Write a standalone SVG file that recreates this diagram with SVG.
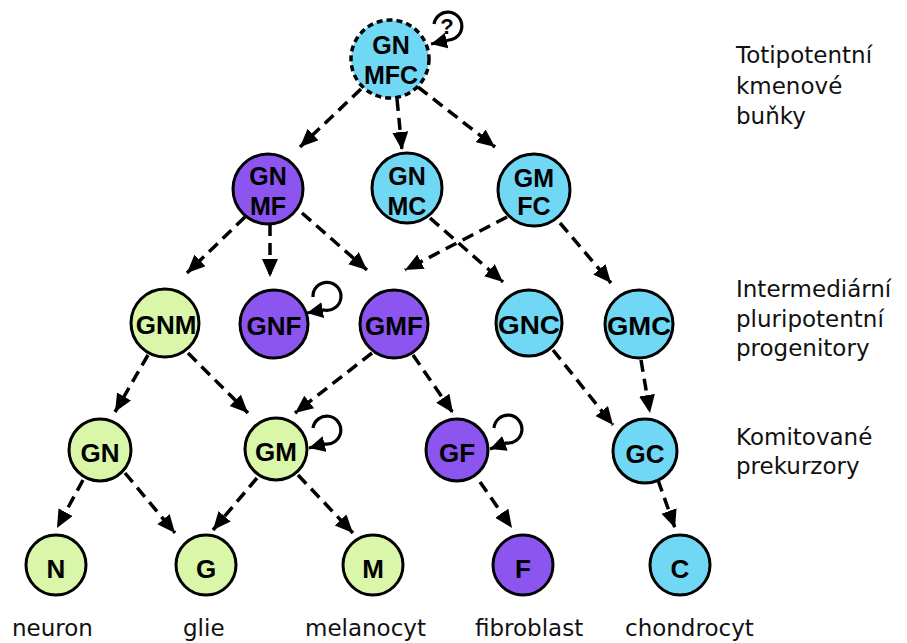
<svg xmlns="http://www.w3.org/2000/svg" width="907" height="643" viewBox="0 0 907 643">
<defs>
<style>
.n{stroke:#000;stroke-width:3}
.cy{fill:#70d8f4}
.pu{fill:#8c55ef}
.gr{fill:#d9f6a9}
.t{font-family:"Liberation Sans",Arial,sans-serif;font-weight:bold;font-size:26px;fill:#000;text-anchor:middle}
.t2{font-family:"Liberation Sans",Arial,sans-serif;font-weight:bold;font-size:25px;fill:#000;text-anchor:middle}
.c{fill:none;stroke:#000;stroke-width:3.5;stroke-dasharray:12 7;marker-end:url(#ah)}
.loop{fill:none;stroke:#000;stroke-width:3.2;marker-end:url(#ah2)}
.lab{font-family:"DejaVu Sans",Verdana,sans-serif;font-size:23px;fill:#111}
</style>
<marker id="ah" markerUnits="userSpaceOnUse" markerWidth="19" markerHeight="17" refX="18" refY="8" orient="auto">
<path d="M0,0 L18,8 L0,16 z" fill="#000"/>
</marker>
<marker id="ah2" markerUnits="userSpaceOnUse" markerWidth="17" markerHeight="17" refX="16" refY="8" orient="auto">
<path d="M0,0 L16,8 L0,16 z" fill="#000"/>
</marker>
</defs>
<rect width="907" height="643" fill="#fff"/>

<g id="connectors">
<path class="c" d="M361,89 L300,147"/>
<path class="c" d="M397,99 L402,150"/>
<path class="c" d="M418,87 L495,147"/>
<path class="c" d="M245,217 L187,273"/>
<path class="c" d="M270,224 L270,277"/>
<path class="c" d="M302,213 L367,270"/>
<path class="c" d="M507,217 L405,270"/>
<path class="c" d="M430,218 L503,282"/>
<path class="c" d="M560,223 L611,283"/>
<path class="c" d="M148,355 L115,412"/>
<path class="c" d="M188,353 L248,413"/>
<path class="c" d="M372,353 L295,413"/>
<path class="c" d="M413,355 L453,413"/>
<path class="c" d="M553,350 L613,425"/>
<path class="c" d="M641,360 L650,413"/>
<path class="c" d="M83,480 L57,528"/>
<path class="c" d="M125,473 L175,533"/>
<path class="c" d="M257,478 L213,530"/>
<path class="c" d="M298,475 L353,533"/>
<path class="c" d="M480,482 L512,528"/>
<path class="c" d="M658,480 L675,528"/>
<path class="loop" d="M434,24 A14,14 0 1 1 449,40 L431,44"/>
<path class="loop" d="M313,297 A14,14 0 1 1 324,310 L307,313"/>
<path class="loop" d="M313,428 A14,14 0 1 1 325,444 L309,448"/>
<path class="loop" d="M494,428 A14,14 0 1 1 506,443 L490,449"/>
</g>
<text x="447" y="34" font-family="Liberation Sans,Arial,sans-serif" font-weight="bold" font-size="22" text-anchor="middle">?</text>

<g id="node-GNMFC">
<circle class="cy" cx="390" cy="59" r="39" stroke="#000" stroke-width="3.5" stroke-dasharray="6 4"/>
<text class="t2" x="391" y="54">GN</text>
<text class="t2" x="391" y="84">MFC</text>
</g>
<g id="node-GNMF">
<circle class="n pu" cx="268" cy="189" r="35"/>
<text class="t2" x="268" y="185">GN</text>
<text class="t2" x="268" y="215">MF</text>
</g>
<g id="node-GNMC">
<circle class="n cy" cx="407" cy="188" r="35"/>
<text class="t2" x="407" y="185">GN</text>
<text class="t2" x="407" y="215">MC</text>
</g>
<g id="node-GMFC">
<circle class="n cy" cx="534" cy="190" r="36"/>
<text class="t2" x="534" y="187">GM</text>
<text class="t2" x="534" y="215">FC</text>
</g>

<g id="node-GNM"><circle class="n gr" cx="165" cy="323" r="34"/><text class="t" x="166" y="334">GNM</text></g>
<g id="node-GNF"><circle class="n pu" cx="274" cy="324" r="34"/><text class="t" x="274" y="335">GNF</text></g>
<g id="node-GMF"><circle class="n pu" cx="394" cy="324" r="34"/><text class="t" x="394" y="335">GMF</text></g>
<g id="node-GNC"><circle class="n cy" cx="529" cy="323" r="33"/><text class="t" x="529" y="334" textLength="62" lengthAdjust="spacingAndGlyphs">GNC</text></g>
<g id="node-GMC"><circle class="n cy" cx="639" cy="324" r="34"/><text class="t" x="639" y="335" textLength="64" lengthAdjust="spacingAndGlyphs">GMC</text></g>

<g id="node-GN"><circle class="n gr" cx="100" cy="450" r="31"/><text class="t" x="100" y="462">GN</text></g>
<g id="node-GM"><circle class="n gr" cx="276" cy="449" r="31"/><text class="t" x="276" y="461">GM</text></g>
<g id="node-GF"><circle class="n pu" cx="457" cy="450" r="31"/><text class="t" x="457" y="462">GF</text></g>
<g id="node-GC"><circle class="n cy" cx="645" cy="451" r="32"/><text class="t" x="645" y="463">GC</text></g>

<g id="node-N"><circle class="n gr" cx="56" cy="565" r="30"/><text class="t" x="56" y="578">N</text></g>
<g id="node-G"><circle class="n gr" cx="206" cy="565" r="30"/><text class="t" x="206" y="578">G</text></g>
<g id="node-M"><circle class="n gr" cx="373" cy="565" r="30"/><text class="t" x="373" y="578">M</text></g>
<g id="node-F"><circle class="n pu" cx="523" cy="565" r="30"/><text class="t" x="523" y="578">F</text></g>
<g id="node-C"><circle class="n cy" cx="680" cy="565" r="30"/><text class="t" x="680" y="578">C</text></g>

<g id="labels">
<text class="lab" x="736" y="63">Totipotentní</text>
<text class="lab" x="736" y="94">kmenové</text>
<text class="lab" x="736" y="124">buňky</text>
<text class="lab" x="736" y="297">Intermediární</text>
<text class="lab" x="736" y="327">pluripotentní</text>
<text class="lab" x="736" y="356">progenitory</text>
<text class="lab" x="736" y="445">Komitované</text>
<text class="lab" x="736" y="474">prekurzory</text>
<text class="lab" x="12" y="636">neuron</text>
<text class="lab" x="183" y="636">glie</text>
<text class="lab" x="305" y="636">melanocyt</text>
<text class="lab" x="475" y="636">fibroblast</text>
<text class="lab" x="625" y="636">chondrocyt</text>
</g>
</svg>
